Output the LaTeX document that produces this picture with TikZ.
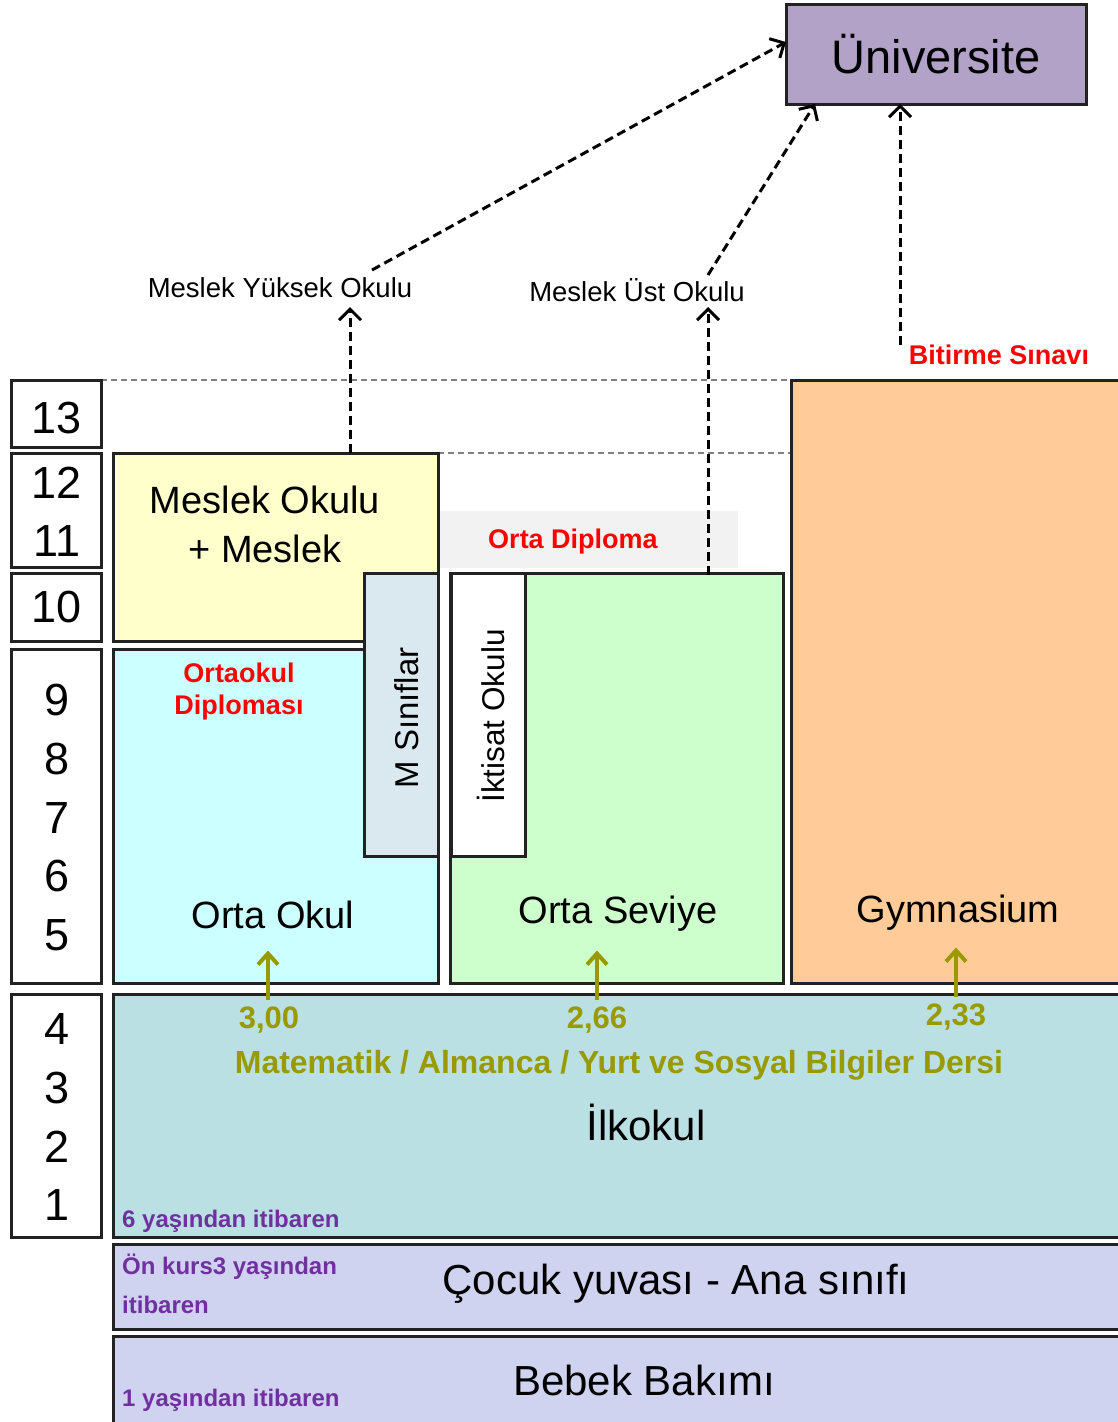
\documentclass[tikz,border=0pt]{standalone}
\usepackage{fontspec}
\setmainfont{Liberation Sans}
\usetikzlibrary{arrows.meta}
\definecolor{boxline}{HTML}{222222}
\definecolor{yellowbox}{HTML}{FFFFCC}
\definecolor{cyanbox}{HTML}{CCFFFF}
\definecolor{msbox}{HTML}{DAE8F0}
\definecolor{greenbox}{HTML}{CCFFCC}
\definecolor{orangebox}{HTML}{FFCC99}
\definecolor{ilkbox}{HTML}{BBE0E3}
\definecolor{lavbox}{HTML}{D0D3F0}
\definecolor{unicol}{HTML}{B3A2C7}
\definecolor{diplband}{HTML}{F2F2F2}
\definecolor{olivec}{HTML}{999900}
\definecolor{purpc}{HTML}{7030A0}
\definecolor{redc}{HTML}{FF0000}
\definecolor{dotgray}{HTML}{808080}
\newcommand\setfs[1]{\fontsize{#1}{#1}\selectfont}
\begin{document}
\begin{tikzpicture}[x=1pt,y=-1pt,
  box/.style={draw=boxline, line width=3pt, anchor=north west, inner sep=0pt, outer sep=0pt},
  txt/.style={inner sep=0pt, text=black},
  num/.style={txt, font=\setfs{45}},
  big/.style={txt, font=\setfs{38}},
  redlbl/.style={inner sep=0pt, text=redc, font=\bfseries\setfs{27}},
  olivelbl/.style={inner sep=0pt, text=olivec, font=\bfseries\setfs{31}},
  purplbl/.style={inner sep=0pt, text=purpc, font=\bfseries\setfs{24}, anchor=west},
  dasharrow/.style={draw=black, line width=3pt, dash pattern=on 9pt off 5pt, -{Straight Barb[length=11pt,width=22pt,line width=3pt]}},
  oarrow/.style={draw=olivec, line width=4pt, -{Straight Barb[length=11pt,width=20pt,line width=4pt]}},
  guide/.style={draw=dotgray, line width=1.8pt, dash pattern=on 6pt off 4pt}
]
\useasboundingbox (0,0) rectangle (1117,1422);

% guide lines
\coordinate (gl1) at (101,380);
\coordinate (gr1) at (791,380);
\coordinate (gl2) at (438,453);
\coordinate (gr2) at (791,453);
\draw[guide] (gl1) -- (gr1);
\draw[guide] (gl2) -- (gr2);

% Orta Diploma band
\node[anchor=north west, fill=diplband, inner sep=0pt, minimum width=298pt, minimum height=57pt] (band) at (440,511) {};
\node[redlbl] (odip) at (573,542) {Orta Diploma};

% grade boxes
\node[box, fill=white, minimum width=90pt, minimum height=67pt] (g13) at (11,380) {};
\node[box, fill=white, minimum width=90pt, minimum height=114pt] (g1211) at (11,453) {};
\node[box, fill=white, minimum width=90pt, minimum height=68pt] (g10) at (11,573) {};
\node[box, fill=white, minimum width=90pt, minimum height=334pt] (g95) at (11,649) {};
\node[box, fill=white, minimum width=90pt, minimum height=243pt] (g41) at (11,994) {};
\node[num] (n13) at (57,418) {13};
\node[num] (n12) at (57,483) {12};
\node[num] (n11) at (57,541) {11};
\node[num] (n10) at (57,607) {10};
\node[num] (n9) at (57,700) {9};
\node[num] (n8) at (57,759) {8};
\node[num] (n7) at (57,818) {7};
\node[num] (n6) at (57,876) {6};
\node[num] (n5) at (57,935) {5};
\node[num] (n4) at (57,1029) {4};
\node[num] (n3) at (57,1088) {3};
\node[num] (n2) at (57,1147) {2};
\node[num] (n1) at (57,1205) {1};

% school boxes
\node[box, fill=yellowbox, minimum width=325pt, minimum height=188pt] (meslek) at (113,453) {};
\node[box, fill=cyanbox, minimum width=325pt, minimum height=334pt] (ortaokul) at (113,649) {};
\node[box, fill=msbox, minimum width=74pt, minimum height=283pt] (msinif) at (364,573) {};
\node[box, fill=greenbox, minimum width=333pt, minimum height=410pt] (ortaseviye) at (450,573) {};
\node[box, fill=white, minimum width=74pt, minimum height=283pt] (iktisat) at (451,573) {};
\node[box, fill=orangebox, minimum width=340pt, minimum height=603pt] (gymn) at (791,380) {};
\node[box, fill=ilkbox, minimum width=1020pt, minimum height=243pt] (ilk) at (113,994) {};
\node[box, fill=lavbox, minimum width=1020pt, minimum height=85pt] (cocuk) at (113,1244) {};
\node[box, fill=lavbox, minimum width=1020pt, minimum height=95pt] (bebek) at (113,1336) {};
\node[box, fill=unicol, minimum width=300pt, minimum height=100pt, font=\setfs{47}] (uni) at (786,4) {\raisebox{-4pt}{Üniversite}};

% texts in boxes
\node[txt, font=\fontsize{38}{49}\selectfont, align=center] (meslektxt) at (265,524) {Meslek Okulu\\+ Meslek};
\node[redlbl, align=center, font=\bfseries\fontsize{27}{32}\selectfont] (odiplomasi) at (239,692) {Ortaokul\\Diploması};
\node[txt, rotate=90, font=\setfs{33}] (mstxt) at (407,718) {M Sınıflar};
\node[txt, rotate=90, font=\setfs{31.5}] (iktxt) at (491,716) {İktisat Okulu};
\node[big] (ortaokultxt) at (273,915) {Orta Okul};
\node[big] (ortaseviyetxt) at (618,914) {Orta Seviye};
\node[big] (gymntxt) at (958,913) {Gymnasium};
\node[txt, font=\setfs{42}] (ilktxt) at (646,1122) {İlkokul};
\node[txt, font=\setfs{42}] (cocuktxt) at (676,1284) {Çocuk yuvası - Ana sınıfı};
\node[txt, font=\setfs{42}] (bebektxt) at (644,1380) {Bebek Bakımı};

% olive values and subjects
\node[olivelbl] (v1) at (269,1020) {3,00};
\node[olivelbl] (v2) at (597,1020) {2,66};
\node[olivelbl] (v3) at (956,1017) {2,33};
\node[olivelbl, font=\bfseries\setfs{32}] (ders) at (619,1065) {Matematik / Almanca / Yurt ve Sosyal Bilgiler Dersi};
\draw[oarrow] (v1.north -| 268,0) ++(0,-7) -- ++(0,-49);
\draw[oarrow] (v2.north) ++(0,-7) -- ++(0,-49);
\draw[oarrow] (v3.north) ++(0,-7) -- ++(0,-49);

% purple labels
\node[purplbl] (yas6) at (122,1221) {6 yaşından itibaren};
\node[purplbl] (onkurs) at (122,1267) {Ön kurs3 yaşından};
\node[purplbl] (onkurs2) at (122,1305) {itibaren};
\node[purplbl] (yas1) at (122,1400) {1 yaşından itibaren};

% upper labels
\node[txt, font=\setfs{27.5}] (myo) at (280,288) {Meslek Yüksek Okulu};
\node[txt, font=\setfs{27.5}] (muo) at (637,290) {Meslek Üst Okulu};
\node[redlbl] (bitirme) at (999,355) {Bitirme Sınavı};

% dashed arrows
\coordinate (a1s) at (350,453);
\coordinate (a1e) at (350,307);
\draw[dasharrow] (a1s) -- (a1e);
\coordinate (a2s) at (372,270);
\coordinate (a2e) at (786,42);
\draw[dasharrow] (a2s) -- (a2e);
\coordinate (a3s) at (708,575);
\coordinate (a3e) at (708,307);
\draw[dasharrow] (a3s) -- (a3e);
\coordinate (a4s) at (708,275);
\coordinate (a4e) at (815,104);
\draw[dasharrow] (a4s) -- (a4e);
\coordinate (a5s) at (900,345);
\draw[dasharrow] (a5s) -- (a5s |- uni.south);
\end{tikzpicture}
\end{document}
